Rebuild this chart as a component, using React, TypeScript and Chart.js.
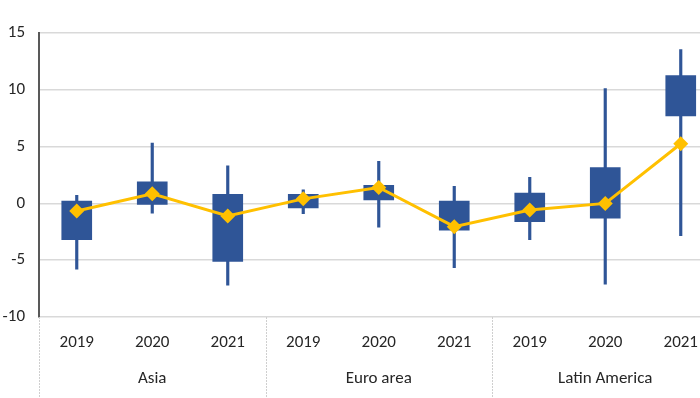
import React, { useEffect, useRef } from "react";
import { Chart, registerables } from "chart.js";

Chart.register(...registerables);

const categories = ["2019", "2020", "2021", "2019", "2020", "2021", "2019", "2020", "2021"];
const groups = ["Asia", "Euro area", "Latin America"];
const boxLow = [-3.2, -0.1, -5.1, -0.4, 0.3, -2.35, -1.6, -1.3, 7.7];
const boxHigh = [0.2, 1.9, 0.8, 0.8, 1.6, 0.2, 0.9, 3.15, 11.25];
const whiskerLow = [-5.8, -0.85, -7.2, -0.9, -2.1, -5.65, -3.2, -7.1, -2.85];
const whiskerHigh = [0.7, 5.3, 3.3, 1.2, 3.7, 1.5, 2.3, 10.1, 13.55];
const midValues = [-0.67, 0.85, -1.1, 0.4, 1.4, -2.05, -0.58, 0.0, 5.25];
const yTicks = [-10, -5, 0, 5, 10, 15];

const FONT = "Carlito, Calibri, Lato, sans-serif";
const FONT_SIZE = 17;

const groupPlugin = {
  id: "groupLabels",
  afterDraw(chart: any) {
    const x = chart.scales.x;
    const ctx = chart.ctx;
    const area = chart.chartArea;
    const step = x.getPixelForValue(1) - x.getPixelForValue(0);
    const per = categories.length / groups.length;
    ctx.save();
    ctx.strokeStyle = "#cfcfcf";
    ctx.lineWidth = 1;
    ctx.setLineDash([2, 1]);
    for (let g = 0; g <= groups.length; g++) {
      const idx = g * per;
      const px = Math.round(x.getPixelForValue(Math.min(idx, categories.length - 1)) + (idx >= categories.length ? step / 2 : -step / 2)) + 0.5;
      ctx.beginPath();
      ctx.moveTo(px, area.bottom);
      ctx.lineTo(px, area.bottom + 81);
      ctx.stroke();
    }
    ctx.setLineDash([]);
    ctx.fillStyle = "#262626";
    ctx.font = `${FONT_SIZE}px ${FONT}`;
    ctx.textAlign = "center";
    ctx.textBaseline = "middle";
    groups.forEach((name, g) => {
      const a = x.getPixelForValue(g * per);
      const b = x.getPixelForValue(g * per + per - 1);
      ctx.fillText(name, (a + b) / 2, area.bottom + 62);
    });
    ctx.restore();
  },
};

export default function App() {
  const ref = useRef<HTMLCanvasElement | null>(null);
  useEffect(() => {
    if (!ref.current) return;
    const chart = new Chart(ref.current, {
      type: "bar",
      data: {
        labels: categories,
        datasets: [
          {
            type: "line",
            label: "Median",
            data: midValues,
            borderColor: "#FFC000",
            backgroundColor: "#FFC000",
            borderWidth: 3,
            pointStyle: "rectRot",
            pointRadius: 7.5,
            pointBorderWidth: 0,
            tension: 0,
            order: 0,
          } as any,
          {
            type: "bar",
            label: "Box",
            data: boxLow.map((l, i) => [l, boxHigh[i]]),
            backgroundColor: "#2F5597",
            borderWidth: 0,
            grouped: false,
            barThickness: 30,
            order: 1,
          } as any,
          {
            type: "bar",
            label: "Range",
            data: whiskerLow.map((l, i) => [l, whiskerHigh[i]]),
            backgroundColor: "#2F5597",
            borderWidth: 0,
            grouped: false,
            barThickness: 2.5,
            order: 2,
          } as any,
        ],
      },
      options: {
        responsive: false,
        animation: false,
        layout: { padding: { top: 33, right: 1, left: 0, bottom: 0 } },
        plugins: { legend: { display: false }, tooltip: { enabled: false } },
        scales: {
          x: {
            grid: { display: false, drawTicks: false },
            border: { display: false },
            ticks: { font: { family: FONT, size: FONT_SIZE }, color: "#262626", padding: 16, maxRotation: 0 },
            afterFit(scale: any) {
              scale.height = 81;
            },
          },
          y: {
            min: -10,
            max: 15,
            afterBuildTicks(scale: any) {
              scale.ticks = yTicks.map((v) => ({ value: v }));
            },
            grid: { color: "#d9d9d9", lineWidth: 1.5, drawTicks: false },
            border: { display: true, color: "#595959", width: 2 },
            ticks: { font: { family: FONT, size: FONT_SIZE }, color: "#262626", padding: 14 },
            afterFit(scale: any) {
              scale.width = 39;
            },
          },
        },
      },
      plugins: [groupPlugin],
    });
    return () => chart.destroy();
  }, []);
  return (
    <div style={{ position: "fixed", left: 0, top: 0, width: 700, height: 398, overflow: "hidden", background: "#fff" }}>
      <canvas ref={ref} width={726} height={398} style={{ display: "block", width: 726, height: 398 }} />
    </div>
  );
}
